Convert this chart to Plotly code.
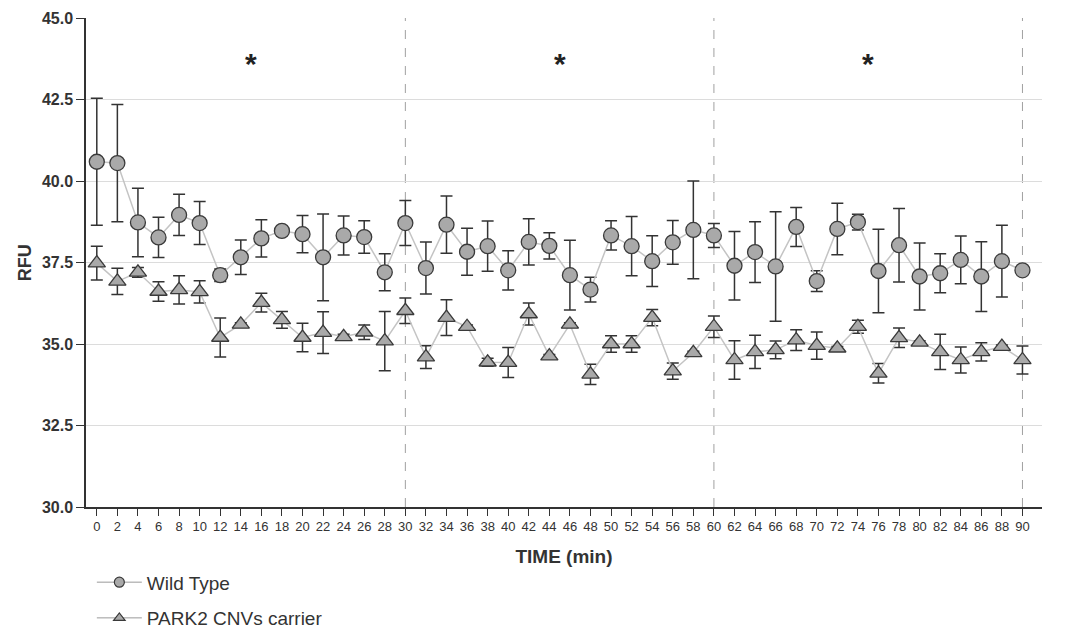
import plotly.graph_objects as go

time_min = list(range(0, 91, 2))

wt_mean = [40.59, 40.55, 38.73, 38.27, 38.96, 38.71, 37.11, 37.66, 38.24, 38.47,
           38.37, 37.66, 38.33, 38.28, 37.20, 38.71, 37.33, 38.66, 37.83, 38.00,
           37.26, 38.13, 38.01, 37.11, 36.67, 38.33, 38.00, 37.54, 38.12, 38.50,
           38.33, 37.40, 37.82, 37.38, 38.59, 36.93, 38.53, 38.74, 37.24, 38.03,
           37.07, 37.17, 37.58, 37.07, 37.54, 37.26]
wt_err = [1.95, 1.80, 1.05, 0.62, 0.63, 0.66, 0.19, 0.53, 0.57, 0.05,
          0.57, 1.33, 0.60, 0.50, 0.57, 0.69, 0.80, 0.88, 0.72, 0.77,
          0.60, 0.71, 0.40, 1.07, 0.38, 0.45, 0.91, 0.78, 0.67, 1.50,
          0.37, 1.05, 0.93, 1.68, 0.60, 0.32, 0.79, 0.24, 1.28, 1.13,
          1.03, 0.60, 0.73, 1.07, 1.10, 0.05]

park_mean = [37.48, 36.92, 37.20, 36.61, 36.66, 36.60, 35.20, 35.60, 36.27, 35.74,
             35.20, 35.35, 35.22, 35.36, 35.09, 36.02, 34.60, 35.81, 35.53, 34.44,
             34.43, 35.92, 34.63, 35.60, 34.07, 35.00, 35.00, 35.81, 34.17, 34.73,
             35.53, 34.51, 34.76, 34.82, 35.12, 34.95, 34.87, 35.53, 34.10, 35.19,
             35.05, 34.76, 34.51, 34.76, 34.92, 34.51]
park_err = [0.52, 0.40, 0.15, 0.30, 0.43, 0.34, 0.60, 0.05, 0.29, 0.26,
            0.44, 0.64, 0.08, 0.22, 0.91, 0.39, 0.35, 0.55, 0.05, 0.12,
            0.46, 0.34, 0.05, 0.05, 0.31, 0.25, 0.25, 0.25, 0.25, 0.05,
            0.33, 0.59, 0.51, 0.27, 0.32, 0.42, 0.05, 0.20, 0.30, 0.30,
            0.05, 0.54, 0.40, 0.28, 0.05, 0.43]

series_names = ["Wild Type", "PARK2 CNVs carrier"]
star_x = [15, 45, 75]
star_y = [43.6, 43.6, 43.6]
divider_x = [30, 60, 90]
y_ticks = [30.0, 32.5, 35.0, 37.5, 40.0, 42.5, 45.0]

FONT = "Liberation Sans, Arial, sans-serif"
NARROW = "Liberation Sans Narrow, Liberation Sans, Arial, sans-serif"
FILL = "#a9a9a9"
EDGE = "#3a3a3a"
LINE = "#c4c4c4"

fig = go.Figure()

for name, mean, err, sym, grp in [
    (series_names[0], wt_mean, wt_err, "circle", "wt"),
    (series_names[1], park_mean, park_err, "triangle-up", "park"),
]:
    fig.add_trace(go.Scatter(
        x=time_min, y=mean, name=name, mode="lines+markers",
        legendgroup=grp, showlegend=False,
        line=dict(color=LINE, width=1.5),
        marker=dict(symbol=sym, size=15, color=FILL,
                    line=dict(color=EDGE, width=1.3)),
        error_y=dict(type="data", array=err, visible=True,
                     color="#333333", thickness=1.5, width=6),
    ))
    # legend-only entry with a smaller symbol, as in the original legend
    fig.add_trace(go.Scatter(
        x=[None], y=[None], name=name, mode="lines+markers",
        legendgroup=grp, showlegend=True,
        line=dict(color="#9a9a9a", width=1),
        marker=dict(symbol=sym, size=10, color=FILL,
                    line=dict(color=EDGE, width=1.2)),
    ))

for xv in divider_x:
    fig.add_shape(type="line", xref="x", yref="paper", x0=xv, x1=xv, y0=0, y1=1,
                  line=dict(color="#a0a0a0", width=1, dash="dash"), layer="below")

for sx, sy in zip(star_x, star_y):
    fig.add_annotation(x=sx, y=sy, text="<b>*</b>", showarrow=False,
                       font=dict(family=FONT, size=30, color="#222222"))

# y-axis title as rotated text
fig.add_annotation(xref="paper", yref="paper", x=-0.064, y=0.5, text="<b>RFU</b>",
                   textangle=-90, showarrow=False, xanchor="center", yanchor="middle",
                   font=dict(family=FONT, size=18, color="#333333"))

fig.update_layout(
    width=1068, height=628,
    margin=dict(l=86, r=26, t=18, b=121, autoexpand=False),
    paper_bgcolor="white", plot_bgcolor="white",
    font=dict(family=FONT, color="#333333"),
    showlegend=True,
    legend=dict(xref="container", yref="container", x=0.086, y=0.103,
                xanchor="left", yanchor="top",
                orientation="v", tracegroupgap=8,
                itemwidth=45,
                font=dict(family=FONT, size=19, color="#333333"),
                bgcolor="rgba(0,0,0,0)"),
    xaxis=dict(
        range=[-1.05, 91.9], tickmode="array", tickvals=time_min,
        ticktext=[str(t) for t in time_min],
        showgrid=False, zeroline=False,
        showline=True, linecolor="#333333", linewidth=1.5,
        ticks="outside", ticklen=7, tickwidth=1.2, tickcolor="#333333",
        tickfont=dict(family=NARROW, size=13, color="#333333"),
        title=dict(text="<b>TIME (min)</b>", standoff=16,
                   font=dict(family=FONT, size=19, color="#333333")),
    ),
    yaxis=dict(
        range=[30, 45], tickmode="array", tickvals=y_ticks,
        ticktext=[f"{v:.1f}" for v in y_ticks],
        showgrid=True, gridcolor="#dcdcdc", gridwidth=1.2, zeroline=False,
        showline=True, linecolor="#333333", linewidth=1.5,
        ticks="outside", ticklen=8, tickwidth=1.2, tickcolor="#333333",
        tickfont=dict(family=FONT, size=16, color="#333333", weight="bold"),
    ),
)

fig.write_html("out.html")
